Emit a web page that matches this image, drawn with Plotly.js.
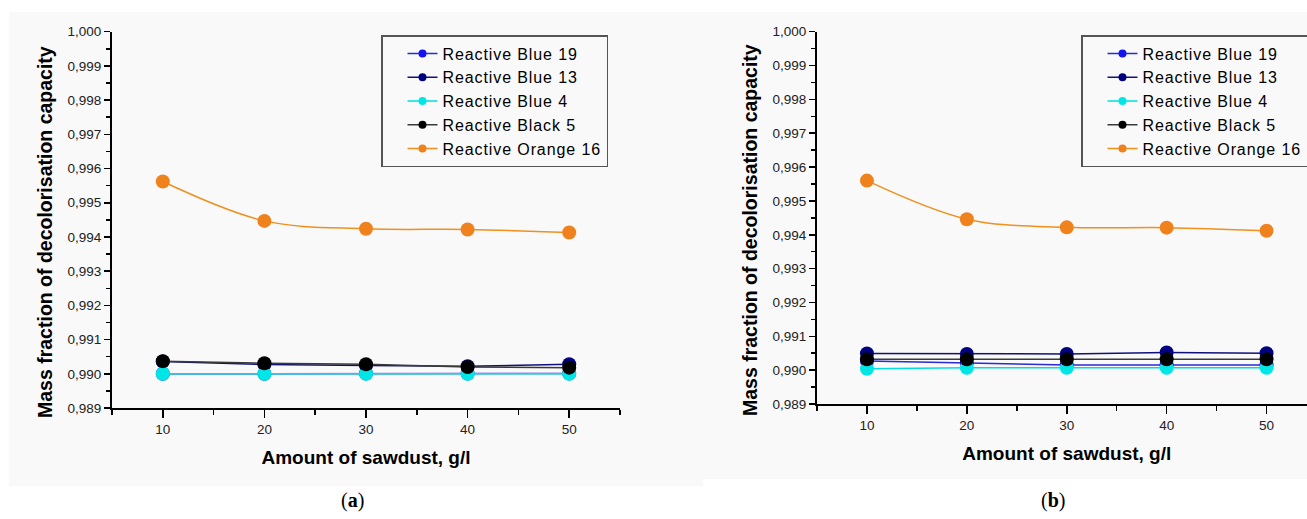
<!DOCTYPE html>
<html>
<head>
<meta charset="utf-8">
<script src="https://cdn.plot.ly/plotly-3.0.1.min.js"></script>
<style>
html,body{margin:0;padding:0;background:#fff;overflow:hidden;}
#chart{width:1320px;height:519px;}
.legendtext, g.legend text, g.legend2 text, text.legendtext{letter-spacing:0.9px;}
</style>
</head>
<body>
<div id="chart"></div>
<script>
// ---- data ----
const sawdust = [10, 20, 30, 40, 50];
const seriesNames = ['Reactive Blue 19', 'Reactive Blue 13', 'Reactive Blue 4', 'Reactive Black 5', 'Reactive Orange 16'];
const seriesColors = ['#1414f0', '#000080', '#00e6e6', '#000000', '#f0821e'];
const lineColors = ['#2a2ad8', '#10107a', '#00dede', '#3a3a3a', '#f0901e'];

// panel (a)
const blue19A  = [0.99000, 0.99000, 0.99001, 0.99001, 0.99001];
const blue13A  = [0.99036, 0.99027, 0.99024, 0.99022, 0.99028];
const blue4A   = [0.99000, 0.99000, 0.99000, 0.99000, 0.99000];
const black5A  = [0.99037, 0.99031, 0.99028, 0.99020, 0.99018];
const orange16A = [0.99562, 0.99447, 0.99424, 0.99422, 0.99413];

// panel (b)
const blue19B  = [0.99027, 0.99022, 0.99015, 0.99015, 0.99015];
const blue13B  = [0.99049, 0.99048, 0.99048, 0.99052, 0.99050];
const blue4B   = [0.99004, 0.99007, 0.99007, 0.99007, 0.99007];
const black5B  = [0.99032, 0.99032, 0.99032, 0.99032, 0.99032];
const orange16B = [0.99560, 0.99446, 0.99422, 0.99421, 0.99412];

const panelA = [blue19A, blue13A, blue4A, black5A, orange16A];
const panelB = [blue19B, blue13B, blue4B, black5B, orange16B];

const xTitle = 'Amount of sawdust, g/l';
const yTitle = 'Mass fraction of decolorisation capacity';

// ---- traces ----
const traces = [];
function addPanel(vals, xa, ya, legendId) {
  vals.forEach((ys, i) => {
    traces.push({
      x: sawdust, y: ys, xaxis: xa, yaxis: ya,
      type: 'scatter', mode: 'lines+markers',
      name: seriesNames[i], showlegend: false,
      line: {color: lineColors[i], width: 1.5, shape: i === 4 ? 'spline' : 'linear'},
      marker: {color: seriesColors[i], size: 14},
      hoverinfo: 'x+y+name'
    });
  });
  // legend entries (small symbols as in the original)
  seriesNames.forEach((n, i) => {
    traces.push({
      x: [null], y: [null], xaxis: xa, yaxis: ya,
      type: 'scatter', mode: 'lines+markers',
      name: n, legend: legendId, showlegend: true,
      line: {color: lineColors[i], width: 1.5},
      marker: {color: seriesColors[i], size: 8}
    });
  });
}
addPanel(panelA, 'x', 'y', 'legend');
addPanel(panelB, 'x2', 'y2', 'legend2');

const W = 1320, H = 519;
const px = v => v / W;
const py = v => 1 - v / H;

const tickFont = {family: 'Arial, "Liberation Sans", sans-serif', size: 13.5, color: '#222'};
const titleFont = {family: 'Arial, "Liberation Sans", sans-serif', size: 19.5, color: '#000'};

function xAxis(domain, range, anchor) {
  return {
    domain: domain, range: range, anchor: anchor,
    showline: true, linecolor: '#000', linewidth: 2,
    showgrid: false, zeroline: false,
    tickmode: 'array', tickvals: [10, 20, 30, 40, 50],
    ticks: 'outside', ticklen: 8, tickwidth: 1.5, tickcolor: '#000',
    minor: {tickmode: 'array', tickvals: [5, 15, 25, 35, 45, 55], ticks: 'outside', ticklen: 5, tickwidth: 1.5, tickcolor: '#000', showgrid: false},
    tickfont: tickFont,
    title: {text: '<b>' + xTitle + '</b>', font: {family: titleFont.family, size: 19, color: '#000'}, standoff: 14},
    fixedrange: true
  };
}
function yAxis(domain, anchor) {
  return {
    domain: domain, range: [0.989, 1.000], anchor: anchor,
    showline: true, linecolor: '#000', linewidth: 2,
    showgrid: false, zeroline: false,
    tick0: 0.989, dtick: 0.001, tickformat: '.3f',
    ticks: 'outside', ticklen: 6, tickwidth: 1.5, tickcolor: '#000',
    minor: {dtick: 0.0005, ticks: 'outside', ticklen: 4, tickwidth: 1.5, tickcolor: '#000', showgrid: false},
    tickfont: tickFont,
    fixedrange: true
  };
}

const legendCommon = {
  font: {family: 'Arial, "Liberation Sans", sans-serif', size: 16, color: '#000'},
  bgcolor: 'rgba(0,0,0,0)', bordercolor: '#555', borderwidth: 1.5,
  xanchor: 'left', yanchor: 'top', indentation: 20,
  tracegroupgap: 0
};

function yTitleAnn(xPix, yPix) {
  return {text: '<b>' + yTitle + '</b>', xref: 'paper', yref: 'paper', x: px(xPix), y: py(yPix),
    xanchor: 'center', yanchor: 'middle', textangle: -90, showarrow: false, font: titleFont};
}

const layout = {
  width: W, height: H,
  margin: {l: 0, r: 0, t: 0, b: 0, autoexpand: false},
  paper_bgcolor: '#ffffff', plot_bgcolor: 'rgba(0,0,0,0)',
  separators: ',.',
  showlegend: true,
  xaxis: xAxis([px(112), px(620)], [5, 55], 'y'),
  yaxis: yAxis([py(408), py(31.7)], 'x'),
  xaxis2: xAxis([px(817), px(1316.5)], [5, 55], 'y2'),
  yaxis2: yAxis([py(404), py(31.7)], 'x2'),
  legend: Object.assign({}, legendCommon, {x: px(381), y: py(35)}),
  legend2: Object.assign({}, legendCommon, {x: px(1081), y: py(35)}),
  shapes: [
    {type: 'rect', xref: 'paper', yref: 'paper', x0: px(9), x1: px(703), y0: py(486), y1: py(12), fillcolor: '#f9f9f9', line: {width: 0}, layer: 'below'},
    {type: 'rect', xref: 'paper', yref: 'paper', x0: px(703), x1: 1, y0: py(479), y1: py(12), fillcolor: '#f9f9f9', line: {width: 0}, layer: 'below'}
  ],
  annotations: [
    yTitleAnn(45, 232),
    yTitleAnn(750, 230),
    {text: '(<b>a</b>)', xref: 'paper', yref: 'paper', x: px(352), y: py(500), xanchor: 'center', yanchor: 'middle', showarrow: false, font: {family: '"Liberation Serif", "Times New Roman", serif', size: 20, color: '#000'}},
    {text: '(<b>b</b>)', xref: 'paper', yref: 'paper', x: px(1053), y: py(500), xanchor: 'center', yanchor: 'middle', showarrow: false, font: {family: '"Liberation Serif", "Times New Roman", serif', size: 20, color: '#000'}}
  ]
};

Plotly.newPlot('chart', traces, layout, {displayModeBar: false, staticPlot: true});
</script>
</body>
</html>
